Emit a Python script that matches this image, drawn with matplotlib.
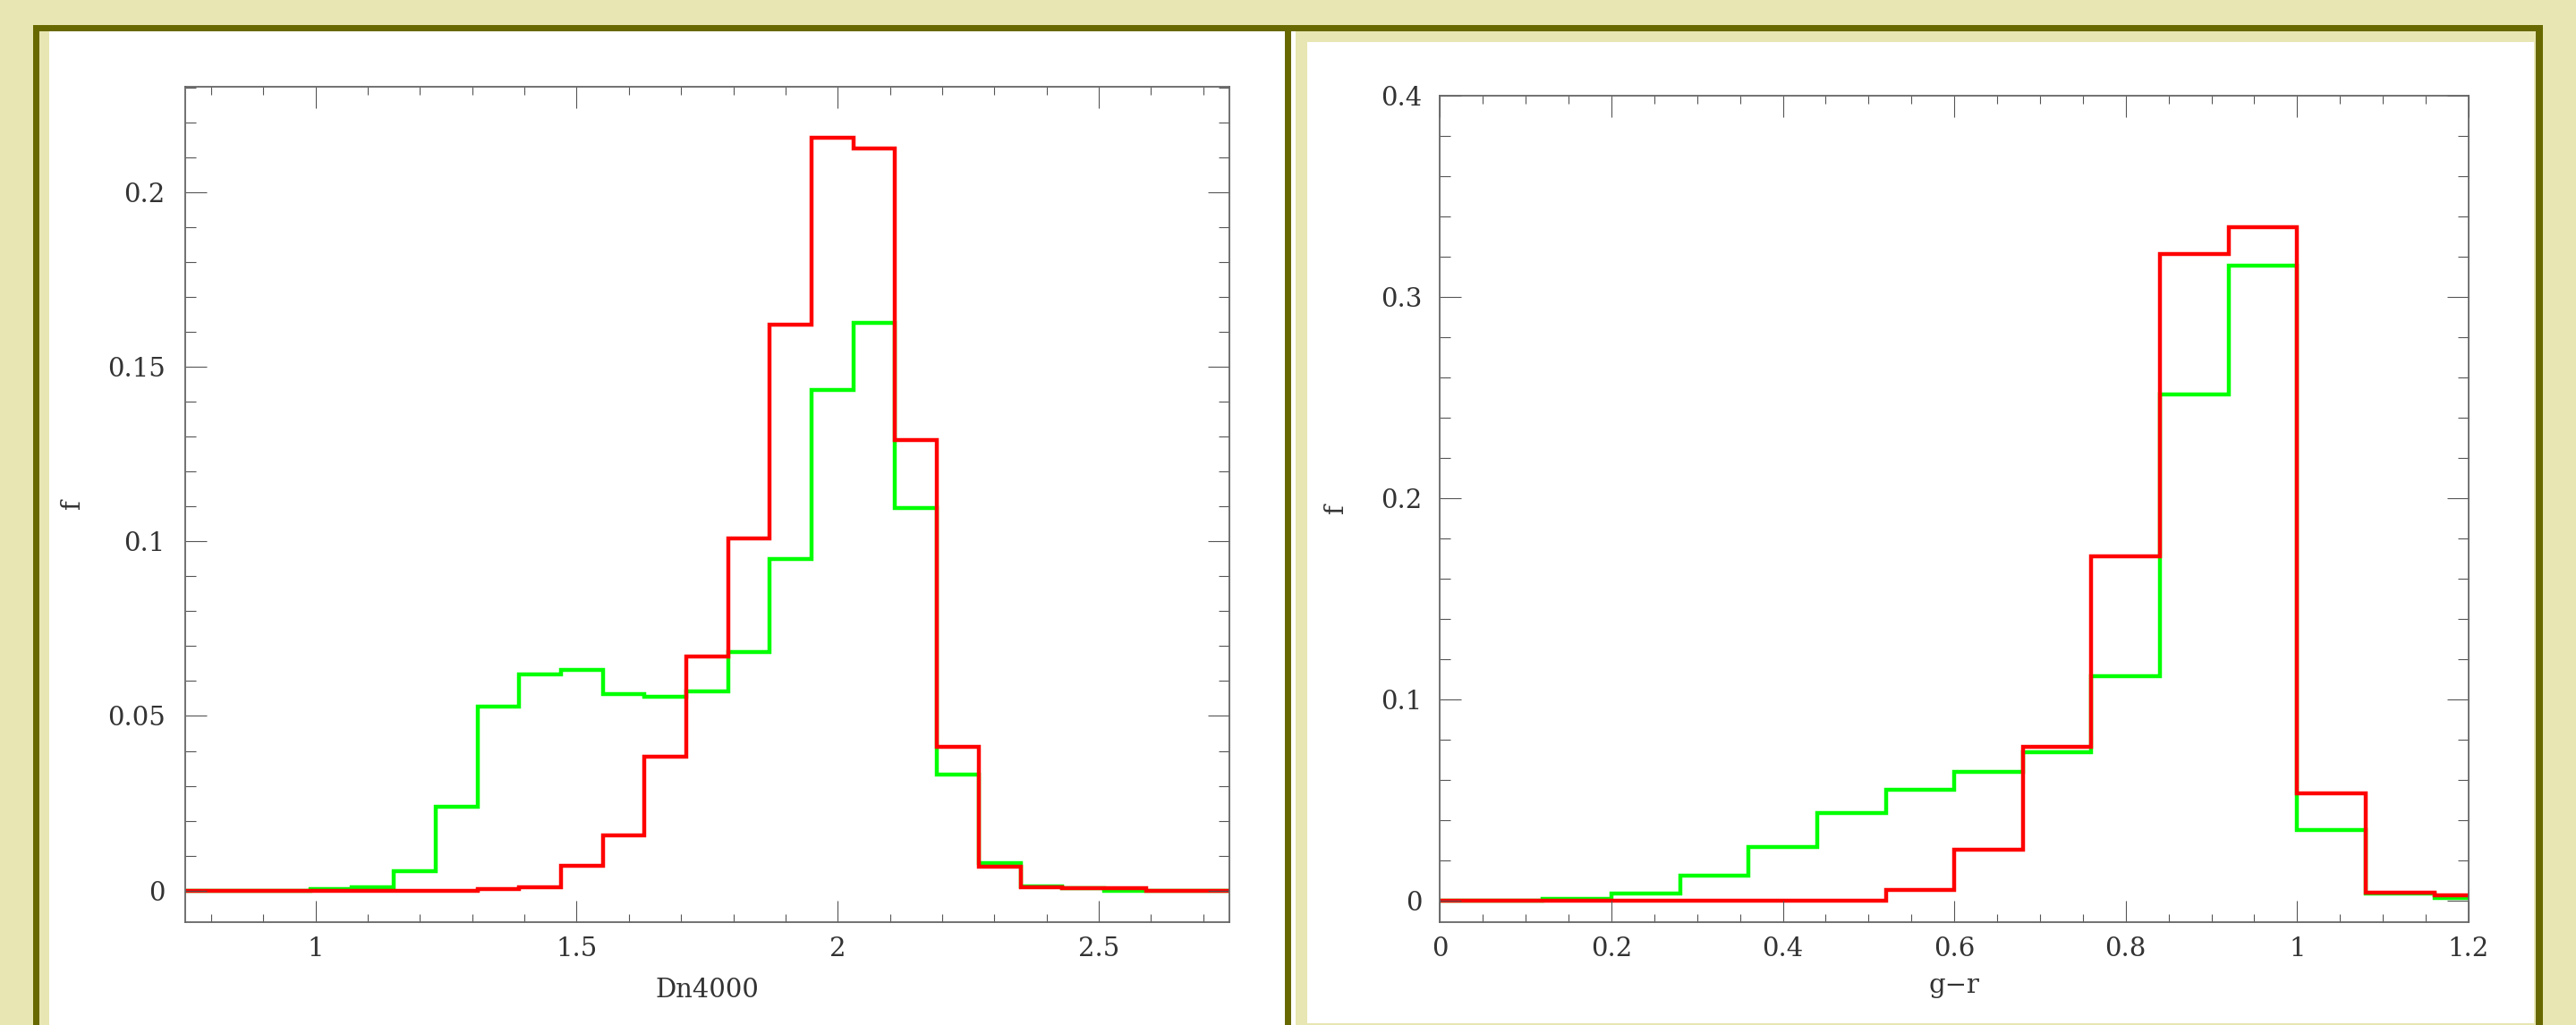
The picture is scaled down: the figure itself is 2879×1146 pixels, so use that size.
import matplotlib
matplotlib.use("Agg")
import matplotlib.pyplot as plt
import numpy as np
from matplotlib.patches import Rectangle
from matplotlib.ticker import MultipleLocator, FormatStrFormatter

W, H = 2879, 1146
KHAKI = '#E8E6B2'
OLIVE = '#686800'

# Dn4000 histograms (bin width 0.08 from 0.75 to 2.75)
dn_edges = np.linspace(0.75, 2.75, 26)
dn_green = [0, 0, 0, 0.0003, 0.0008, 0.0056, 0.024, 0.0528, 0.0618, 0.0633,
            0.0564, 0.0556, 0.0571, 0.0682, 0.0949, 0.1434, 0.1627, 0.1096,
            0.0331, 0.0079, 0.0013, 0.0006, 0.0, 0, 0]
dn_red = [0, 0, 0, 0, 0, 0, 0, 0.0004, 0.001, 0.0071, 0.0157, 0.0384, 0.067,
          0.1009, 0.1622, 0.2157, 0.2125, 0.129, 0.0412, 0.0067, 0.0009,
          0.0006, 0.0006, 0, 0]

# g-r histograms (bin width 0.08 from -0.04 to 1.24)
gr_edges = np.linspace(-0.04, 1.24, 17)
gr_green = [0, 0, 0.001, 0.0036, 0.0127, 0.0266, 0.0435, 0.0552, 0.0643,
            0.0737, 0.1117, 0.2516, 0.3159, 0.0354, 0.0036, 0.0013]
gr_red = [0, 0.0003, 0.0003, 0, 0, 0.0003, 0.0003, 0.0055, 0.0256, 0.0766,
          0.1714, 0.3214, 0.335, 0.0536, 0.0042, 0.0029]

plt.rcParams['font.family'] = ['DejaVu Serif']
FS = 21


def px_rect(fig, x0, y0, x1, y1, color, z=0):
    # rectangle given in pixel coords (y from top)
    fig.add_artist(Rectangle((x0 / W, 1 - y1 / H), (x1 - x0) / W, (y1 - y0) / H,
                             transform=fig.transFigure, facecolor=color,
                             edgecolor='none', zorder=z))


def px_axes(fig, x0, y0, x1, y1):
    return fig.add_axes([x0 / W, 1 - y1 / H, (x1 - x0) / W, (y1 - y0) / H])


def style_axes(ax, xmaj, xmin, ymaj, ymin, ypad):
    ax.xaxis.set_major_locator(MultipleLocator(xmaj))
    ax.xaxis.set_minor_locator(MultipleLocator(xmin))
    ax.yaxis.set_major_locator(MultipleLocator(ymaj))
    ax.yaxis.set_minor_locator(MultipleLocator(ymin))
    ax.xaxis.set_major_formatter(FormatStrFormatter('%g'))
    ax.yaxis.set_major_formatter(FormatStrFormatter('%g'))
    ax.tick_params(which='both', direction='in', top=True, right=True,
                   color='#555555', width=0.8, labelcolor='#333333', labelsize=FS)
    ax.tick_params(axis='x', which='major', length=17, pad=12)
    ax.tick_params(axis='x', which='minor', length=6.5)
    ax.tick_params(axis='y', which='major', length=17, pad=ypad)
    ax.tick_params(axis='y', which='minor', length=8.6)
    for sp in ax.spines.values():
        sp.set_color('#666666')
        sp.set_linewidth(1.3)


fig = plt.figure(figsize=(W / 100, H / 100), dpi=100)
fig.patch.set_facecolor(KHAKI)

# panel frames
px_rect(fig, 55, 35, 1436, 1146, 'white')
px_rect(fig, 1443, 35, 1448, 1146, 'white')
px_rect(fig, 1461, 47, 2832, 1144, 'white')
px_rect(fig, 37, 28, 2842, 35, OLIVE, 1)
px_rect(fig, 37, 28, 44, 1146, OLIVE, 1)
px_rect(fig, 1436, 28, 1443, 1146, OLIVE, 1)
px_rect(fig, 2834, 28, 2842, 1146, OLIVE, 1)

# left: Dn4000
ax1 = px_axes(fig, 206.7, 97, 1374, 1030.7)
ax1.stairs(dn_green, dn_edges, color='#00FF00', lw=3.2, baseline=None)
ax1.stairs(dn_red, dn_edges, color='#FF0000', lw=3.2, baseline=None)
ax1.set_xlim(0.75, 2.75)
ax1.set_ylim(-0.009, 0.2303)
style_axes(ax1, 0.5, 0.1, 0.05, 0.01, 16)
ax1.set_xlabel('Dn4000', fontsize=FS, color='#333333')
ax1.xaxis.set_label_coords(0.5, -0.082)
ax1.xaxis.label.set_verticalalignment('center')
ax1.set_ylabel('f', fontsize=FS, color='#333333')
ax1.yaxis.set_label_coords(-0.108, 0.5)
ax1.yaxis.label.set_verticalalignment('center')

# right: g-r
ax2 = px_axes(fig, 1609.3, 107.3, 2759, 1030.7)
ax2.stairs(gr_green, gr_edges, color='#00FF00', lw=3.2, baseline=None)
ax2.stairs(gr_red, gr_edges, color='#FF0000', lw=3.2, baseline=None)
ax2.set_xlim(0, 1.2)
ax2.set_ylim(-0.0104, 0.4)
style_axes(ax2, 0.2, 0.05, 0.1, 0.02, 14)
ax2.set_xlabel('g\u2212r', fontsize=FS, color='#333333')
ax2.xaxis.set_label_coords(0.5, -0.077)
ax2.xaxis.label.set_verticalalignment('center')
ax2.set_ylabel('f', fontsize=FS, color='#333333')
ax2.yaxis.set_label_coords(-0.101, 0.5)
ax2.yaxis.label.set_verticalalignment('center')

fig.savefig('out.png', dpi=100, facecolor=fig.get_facecolor())
